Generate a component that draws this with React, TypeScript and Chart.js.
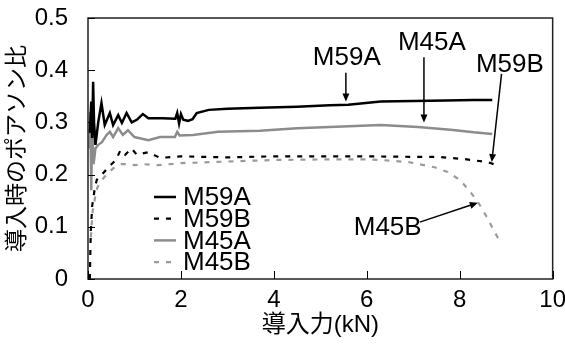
import React, { useEffect, useRef } from "react";
import { Chart, registerables } from "chart.js";

Chart.register(...registerables);

// ---- data ----
const seriesNames = ["M59A", "M59B", "M45A", "M45B"];

const m59aX = [0.04, 0.07, 0.09, 0.11, 0.13, 0.16, 0.22, 0.29, 0.36, 0.47, 0.54, 0.65, 0.73, 0.83, 0.94, 1.05, 1.18, 1.3, 1.6, 1.88, 1.92, 1.96, 2.0, 2.05, 2.15, 2.25, 2.34, 2.6, 3.0, 3.7, 4.5, 5.2, 5.6, 6.3, 7.0, 7.7, 8.3, 8.7];
const m59aY = [0.28, 0.34, 0.27, 0.378, 0.30, 0.257, 0.30, 0.337, 0.295, 0.318, 0.295, 0.314, 0.299, 0.318, 0.30, 0.305, 0.316, 0.308, 0.308, 0.307, 0.318, 0.298, 0.316, 0.305, 0.303, 0.306, 0.318, 0.324, 0.326, 0.328, 0.33, 0.333, 0.334, 0.34, 0.341, 0.342, 0.343, 0.343];

const m59bX = [0.04, 0.05, 0.06, 0.09, 0.15, 0.19, 0.3, 0.45, 0.6, 0.7, 0.8, 0.94, 1.05, 1.3, 1.55, 2.0, 3.0, 4.0, 5.0, 6.0, 7.0, 7.5, 7.8, 8.07, 8.6, 8.8];
const m59bY = [0.0, 0.05, 0.09, 0.14, 0.176, 0.19, 0.2, 0.215, 0.228, 0.247, 0.238, 0.25, 0.238, 0.243, 0.232, 0.235, 0.233, 0.235, 0.235, 0.235, 0.234, 0.234, 0.232, 0.23, 0.224, 0.218];

const m45aX = [0.03, 0.05, 0.07, 0.09, 0.12, 0.16, 0.22, 0.3, 0.4, 0.47, 0.54, 0.65, 0.75, 0.86, 1.0, 1.3, 1.55, 1.87, 1.92, 1.97, 2.26, 2.8, 3.7, 4.5, 5.2, 6.3, 7.1, 7.8, 8.3, 8.7];
const m45aY = [0.25, 0.32, 0.17, 0.29, 0.22, 0.25, 0.257, 0.262, 0.276, 0.282, 0.272, 0.289, 0.276, 0.285, 0.272, 0.266, 0.272, 0.272, 0.282, 0.275, 0.276, 0.282, 0.284, 0.289, 0.291, 0.295, 0.291, 0.286, 0.281, 0.278];

const m45bX = [0.06, 0.1, 0.15, 0.2, 0.3, 0.4, 0.54, 0.7, 0.85, 1.0, 1.2, 1.5, 2.0, 3.0, 4.0, 5.0, 6.0, 6.3, 6.9, 7.46, 7.74, 8.0, 8.2, 8.39, 8.58, 8.82, 8.85];
const m45bY = [0.08, 0.13, 0.155, 0.175, 0.19, 0.2, 0.212, 0.22, 0.22, 0.218, 0.22, 0.218, 0.222, 0.225, 0.228, 0.229, 0.229, 0.228, 0.224, 0.214, 0.205, 0.19, 0.17, 0.148, 0.119, 0.079, 0.075];

const xTickStep = 2;
const yTickStep = 0.1;

// annotations (data coordinates)
const annoLabels = ["M59A", "M45A", "M59B", "M45B"];
const annoTextX = [5.57, 7.4, 9.08, 6.45];
const annoTextY = [0.423, 0.452, 0.41, 0.098];
const arrowFromX = [5.55, 7.23, 8.9, 7.14];
const arrowFromY = [0.395, 0.425, 0.393, 0.109];
const arrowToX = [5.55, 7.23, 8.69, 8.39];
const arrowToY = [0.34, 0.3, 0.224, 0.146];

const FONT = '"Liberation Sans", Arial, "Noto Sans CJK JP", sans-serif';

const toPoints = (xs: number[], ys: number[]) => xs.map((x, i) => ({ x, y: ys[i] }));

const framePlugin = {
  id: "frameTicks",
  afterDatasetsDraw(chart: any) {
    const { ctx, chartArea: a, scales } = chart;
    ctx.save();
    ctx.strokeStyle = "#222";
    ctx.lineWidth = 1.5;
    ctx.strokeRect(a.left, a.top, a.right - a.left, a.bottom - a.top);
    ctx.lineWidth = 1;
    ctx.strokeStyle = "#000";
    scales.y.ticks.forEach((t: any) => {
      const y = Math.round(scales.y.getPixelForValue(t.value)) + 0.5;
      ctx.beginPath();
      ctx.moveTo(a.left, y);
      ctx.lineTo(a.left + 7, y);
      ctx.stroke();
    });
    scales.x.ticks.forEach((t: any) => {
      const x = Math.round(scales.x.getPixelForValue(t.value)) + 0.5;
      ctx.beginPath();
      ctx.moveTo(x, a.bottom);
      ctx.lineTo(x, a.bottom - 8);
      ctx.stroke();
    });
    ctx.restore();
  },
};

const annoPlugin = {
  id: "annoArrows",
  afterDatasetsDraw(chart: any) {
    const { ctx, scales } = chart;
    const sx = scales.x, sy = scales.y;
    ctx.save();
    ctx.fillStyle = "#000";
    ctx.strokeStyle = "#000";
    ctx.font = `26px ${FONT}`;
    ctx.textAlign = "center";
    ctx.textBaseline = "middle";
    annoLabels.forEach((lab, i) => {
      ctx.fillText(lab, sx.getPixelForValue(annoTextX[i]), sy.getPixelForValue(annoTextY[i]));
      const x1 = sx.getPixelForValue(arrowFromX[i]);
      const y1 = sy.getPixelForValue(arrowFromY[i]);
      const x2 = sx.getPixelForValue(arrowToX[i]);
      const y2 = sy.getPixelForValue(arrowToY[i]);
      const ang = Math.atan2(y2 - y1, x2 - x1);
      const hl = 8, hw = 3.5;
      ctx.lineWidth = 1.5;
      ctx.beginPath();
      ctx.moveTo(x1, y1);
      ctx.lineTo(x2 - Math.cos(ang) * hl * 0.8, y2 - Math.sin(ang) * hl * 0.8);
      ctx.stroke();
      ctx.beginPath();
      ctx.moveTo(x2, y2);
      ctx.lineTo(x2 - Math.cos(ang) * hl - Math.sin(ang) * hw, y2 - Math.sin(ang) * hl + Math.cos(ang) * hw);
      ctx.lineTo(x2 - Math.cos(ang) * hl + Math.sin(ang) * hw, y2 - Math.sin(ang) * hl - Math.cos(ang) * hw);
      ctx.closePath();
      ctx.fill();
    });
    ctx.restore();
  },
};

const legendPlugin = {
  id: "innerLegend",
  afterDatasetsDraw(chart: any) {
    const { ctx, chartArea: a } = chart;
    ctx.save();
    ctx.font = `26px ${FONT}`;
    ctx.textAlign = "left";
    ctx.textBaseline = "middle";
    chart.data.datasets.forEach((ds: any, i: number) => {
      const y = a.top + 179 + i * 21.7;
      ctx.strokeStyle = ds.borderColor;
      ctx.lineWidth = ds.borderWidth;
      ctx.setLineDash(ds.borderDash || []);
      ctx.beginPath();
      ctx.moveTo(a.left + 66, y);
      ctx.lineTo(a.left + 88, y);
      ctx.stroke();
      ctx.setLineDash([]);
      ctx.fillStyle = "#000";
      ctx.fillText(ds.label, a.left + 95, y + 1);
    });
    ctx.restore();
  },
};

export default function App() {
  const ref = useRef<HTMLCanvasElement | null>(null);

  useEffect(() => {
    if (!ref.current) return;
    const chart = new Chart(ref.current, {
      type: "line",
      data: {
        datasets: [
          { label: seriesNames[0], data: toPoints(m59aX, m59aY), borderColor: "#000", borderWidth: 2.5, pointRadius: 0, tension: 0 },
          { label: seriesNames[1], data: toPoints(m59bX, m59bY), borderColor: "#000", borderWidth: 2.2, borderDash: [5, 7], pointRadius: 0, tension: 0 },
          { label: seriesNames[2], data: toPoints(m45aX, m45aY), borderColor: "#8c8c8c", borderWidth: 2.5, pointRadius: 0, tension: 0 },
          { label: seriesNames[3], data: toPoints(m45bX, m45bY), borderColor: "#9a9a9a", borderWidth: 2.2, borderDash: [5, 7], pointRadius: 0, tension: 0 },
        ] as any,
      },
      options: {
        animation: false,
        responsive: true,
        maintainAspectRatio: false,
        layout: { padding: { left: 0, top: 18, right: 4, bottom: 0 } },
        plugins: { legend: { display: false }, tooltip: { enabled: false } },
        scales: {
          x: {
            type: "linear",
            min: 0,
            max: 10,
            ticks: { stepSize: xTickStep, font: { family: FONT, size: 24 }, color: "#000", padding: -1, maxRotation: 0 },
            grid: { display: false },
            border: { display: false },
            title: { display: true, text: "導入力(kN)", font: { family: FONT, size: 24 }, color: "#000", padding: { top: 0, bottom: 20 } },
            afterFit: (s: any) => { s.height = 81; },
          },
          y: {
            type: "linear",
            min: 0,
            max: 0.5,
            ticks: { stepSize: yTickStep, font: { family: FONT, size: 24 }, color: "#000", padding: 2 },
            grid: { display: true, drawOnChartArea: false, drawTicks: true, tickLength: 18, tickColor: "rgba(0,0,0,0)" },
            border: { display: false },
            title: { display: true, text: "導入時のポアソン比", font: { family: FONT, size: 23 }, color: "#000", padding: { top: 4, bottom: 0 } },
            afterFit: (s: any) => { s.width = 88; },
          },
        },
      } as any,
      plugins: [framePlugin, annoPlugin, legendPlugin],
    });
    return () => chart.destroy();
  }, []);

  return (
    <div style={{ position: "fixed", left: 0, top: 0, width: 565, height: 360, background: "#fff" }}>
      <canvas ref={ref} />
    </div>
  );
}
